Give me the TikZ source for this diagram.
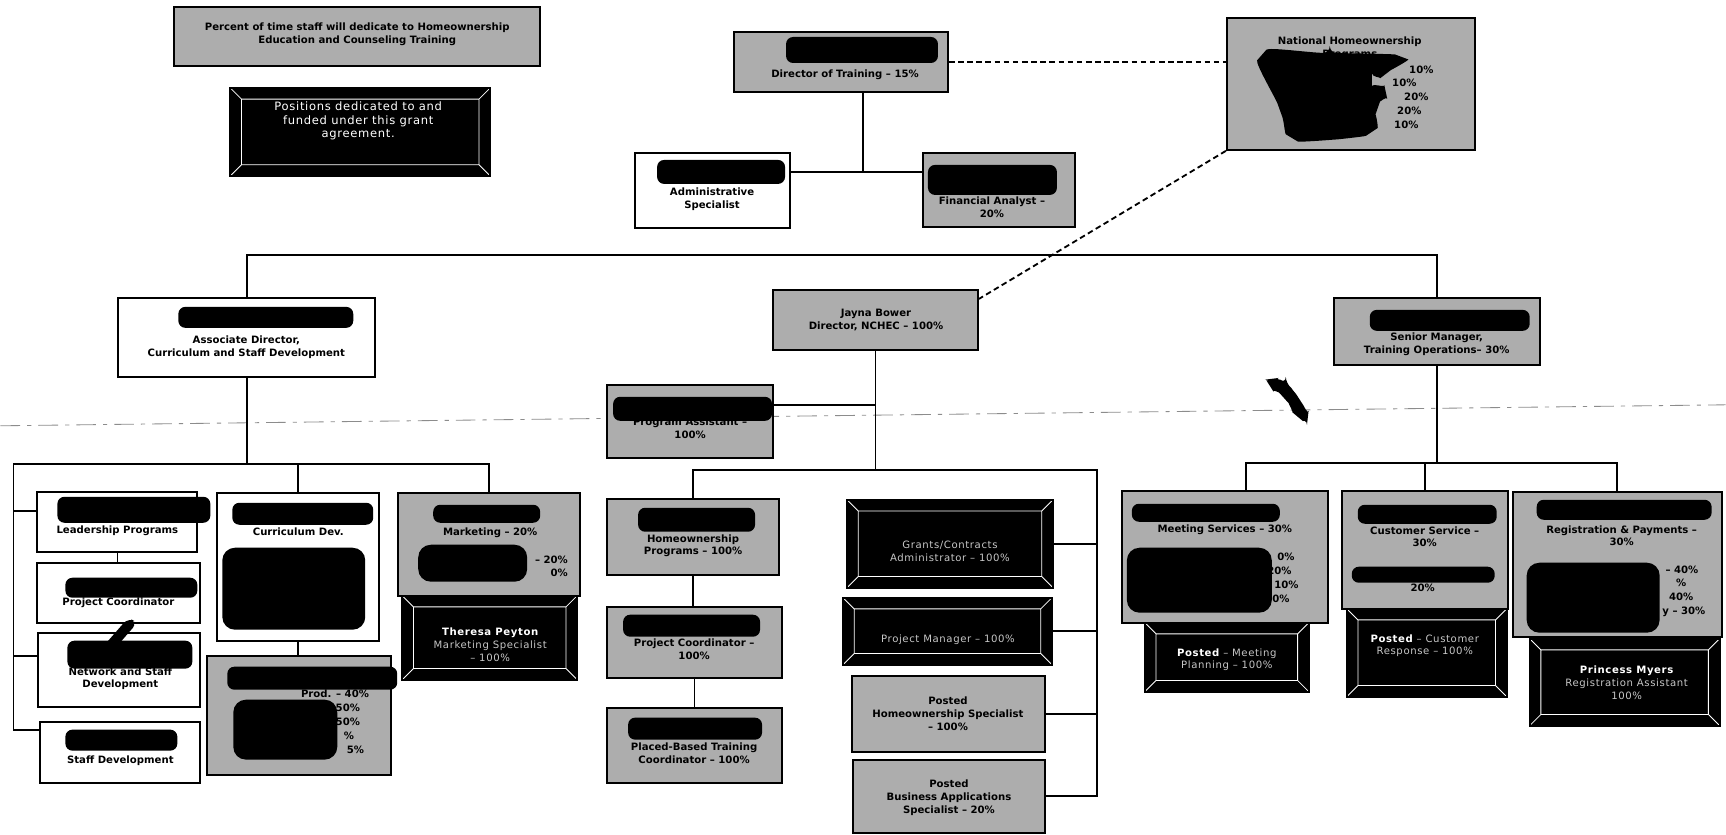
\documentclass[tikz,border=0pt]{standalone}
\usepackage{fontspec}
\setmainfont{DejaVu Sans}
\newfontfamily\widefont[LetterSpace=6]{DejaVu Sans}
\usetikzlibrary{positioning,fit,calc}
\tikzset{
    % plain position box
    wbox/.style={
        draw=black,
        line width=1.3pt,
        fill=white,
        inner sep=0pt
    },
    % shaded box (time share)
    gbox/.style={
        draw=black,
        line width=1.3pt,
        fill=black!32,
        inner sep=0pt
    },
    % funded position, bevelled black box
    bbox/.style={
        draw=black,
        line width=1.3pt,
        fill=black,
        inner sep=0pt,
        path picture={
            \draw[white, line width=0.6pt]
                ($(path picture bounding box.north west)+(.28cm,-.28cm)$) rectangle
                ($(path picture bounding box.south east)+(-.28cm,.28cm)$)
                (path picture bounding box.north west) -- ++(.28cm,-.28cm)
                (path picture bounding box.north east) -- ++(-.28cm,-.28cm)
                (path picture bounding box.south west) -- ++(.28cm,.28cm)
                (path picture bounding box.south east) -- ++(-.28cm,.28cm);
        }
    },
    % labels
    lbl/.style={
        font=\fontsize{7.2}{9.2}\selectfont\bfseries,
        align=center,
        inner sep=0pt
    },
    wlbl/.style={
        font=\widefont\fontsize{7.2}{9.2}\selectfont,
        text=white!78!black,
        align=center,
        inner sep=0pt
    },
    % connectors
    conn/.style={
        line width=1.2pt,
        black
    },
    dashconn/.style={
        line width=1.3pt,
        dash pattern=on 4pt off 2.5pt
    },
    % blacked-out names
    redact/.style={
        fill=black,
        rounded corners=5pt
    }
}

\begin{document}
\begin{tikzpicture}[x=0.025cm, y=-0.025cm]

\path[fill=white] (0,0) rectangle (1726,835);

% scanner streak
\draw[black!45, line width=0.6pt, dash pattern=on 14pt off 5pt on 3pt off 5pt] (0,426) -- (1726,405);

% === LEGEND ===
\node[gbox, fit={(174,7) (540,66)}] (legend) {};
\node[lbl] (legend-t) at (357,34) {Percent of time staff will dedicate to Homeownership\\Education and Counseling Training};
\node[bbox, fit={(230,88) (490,176)}] (grant) {};
\node[wlbl, text=white, font=\widefont\fontsize{8.2}{9.6}\selectfont] (grant-t) at (358,121) {Positions dedicated to and\\funded under this grant\\agreement.};

% === TOP ===
\node[gbox, fit={(734,32) (948,92)}] (dir) {};
\node[wbox, fit={(635,153) (790,228)}] (adm) {};
\node[gbox, fit={(923,153) (1075,227)}] (fin) {};
\node[gbox, fit={(1227,18) (1475,150)}] (nat) {};

\coordinate (dirj) at (863,172);
\draw[conn] (dirj |- dir.south) -- (dirj);
\draw[conn] (dirj -| adm.east) -- (dirj -| fin.west);
\draw[dashconn] (dir.east) -- (dir.east -| nat.west);

% === SECOND ROW ===
\node[wbox, fit={(118,298) (375,377)}] (assoc) {};
\node[gbox, fit={(773,290) (978,350)}] (jay) {};
\node[gbox, fit={(1334,298) (1540,365)}] (sen) {};

\coordinate (busL) at (246.5,255);
\draw[conn] (assoc.north) -- (busL) -| (sen.north);
\draw[dashconn] (nat.south west) -- ([yshift=-0.25cm]jay.north east);

% === CURRICULUM AND STAFF DEVELOPMENT ===
\node[wbox, fit={(37,492) (197,552)}] (lead) {};
\node[wbox, fit={(37,563) (200,623)}] (proj) {};
\node[wbox, fit={(38,633) (200,707)}] (net) {};
\node[wbox, fit={(40,722) (200,783)}] (staff) {};
\node[wbox, fit={(217,493) (379,641)}] (cur) {};
\node[gbox, fit={(207,656) (391,775)}] (instr) {};
\node[gbox, fit={(398,493) (580,596)}] (mkt) {};
\node[bbox, fit={(402,596) (577,680)}] (ther) {};

\coordinate (lbusL) at (13,464);
\draw[conn] (assoc.south) -- (assoc.south |- lbusL);
\draw[conn] (lbusL) -| (mkt.north);
\draw[conn] (cur.north |- lbusL) -- (cur.north);
\draw[conn] (lbusL) |- ([yshift=0.275cm]lead.west);
\draw[conn] (lbusL) |- ([yshift=0.35cm]net.west);
\draw[conn] (lbusL) |- ([yshift=0.55cm]staff.west);
\draw[conn] (lead.south) -- (lead.south |- proj.north);
\draw[conn] (cur.south) -- (cur.south |- instr.north);

% === NCHEC ===
\node[gbox, fit={(607,385) (773,458)}] (pa) {};
\node[gbox, fit={(607,499) (779,575)}] (hp) {};
\node[gbox, fit={(607,607) (782,678)}] (pc) {};
\node[gbox, fit={(607,708) (782,783)}] (pb) {};
\node[bbox, fit={(847,500) (1053,588)}] (grants) {};
\node[bbox, fit={(843,598) (1052,665)}] (pm) {};
\node[gbox, fit={(852,676) (1045,752)}] (hs) {};
\node[gbox, fit={(853,760) (1045,833)}] (ba) {};

\coordinate (mbusL) at (693,470);
\coordinate (mbusR) at (1097,470);
\coordinate (paj) at (875.5,405);
\draw[conn] (jay.south) -- (jay.south |- mbusL);
\draw[conn] (paj) -- (paj -| pa.east);
\draw[conn] (mbusL |- hp.north) -- (mbusL) -- (mbusR) |- (ba.east);
\draw[conn] (mbusR |- grants.east) -- (grants.east);
\draw[conn] (mbusR |- pm.east) -- (pm.east);
\draw[conn] (mbusR |- hs.east) -- (hs.east);
\draw[conn] (hp.south) -- (hp.south |- pc.north);
\draw[conn] (pc.south) -- (pc.south |- pb.north);

% === TRAINING OPERATIONS ===
\node[gbox, fit={(1122,491) (1328,623)}] (meet) {};
\node[bbox, fit={(1145,623) (1309,692)}] (meetb) {};
\node[gbox, fit={(1342,491) (1508,609)}] (cust) {};
\node[bbox, fit={(1347,609) (1507,697)}] (custb) {};
\node[gbox, fit={(1513,492) (1722,637)}] (reg) {};
\node[bbox, fit={(1530,639) (1720,726)}] (prin) {};

\coordinate (rbusL) at (1246,463);
\draw[conn] (sen.south) -- (sen.south |- rbusL);
\draw[conn] (rbusL |- meet.north) -- (rbusL) -| (reg.north);
\draw[conn] (cust.north |- rbusL) -- (cust.north);

% === TEXTS ===
\node[lbl] (dir-t) at (845,75) {Director of Training – 15\%};
\node[lbl] (adm-t) at (712,199) {Administrative\\Specialist};
\node[lbl] (fin-t) at (992,207) {Financial Analyst –\\20\%};
\node[lbl] (nat-t) at (1350,48) {National Homeownership\\Programs};
\node[lbl, anchor=east] (nat-p1) at (1434,70) {10\%};
\node[lbl, anchor=east] (nat-p2) at (1417,83) {10\%};
\node[lbl, anchor=east] (nat-p3) at (1429,97) {20\%};
\node[lbl, anchor=east] (nat-p4) at (1422,111) {20\%};
\node[lbl, anchor=east] (nat-p5) at (1419,125) {10\%};

\node[lbl] (assoc-t) at (246,347) {Associate Director,\\Curriculum and Staff Development};
\node[lbl] (jay-t) at (876,320) {Jayna Bower\\Director, NCHEC – 100\%};
\node[lbl] (sen-t) at (1437,344) {Senior Manager,\\Training Operations– 30\%};

\node[lbl] (lead-t) at (117,531) {Leadership Programs};
\node[lbl] (proj-t) at (118,603) {Project Coordinator};
\node[lbl] (net-t) at (120,679) {Network and Staff\\Development};
\node[lbl] (staff-t) at (120,761) {Staff Development};
\node[lbl] (cur-t) at (298,532) {Curriculum Dev.};
\node[lbl, anchor=east] (instr-t) at (369,694) {Prod. – 40\%};
\node[lbl, anchor=east] (instr-p1) at (360,708) {– 50\%};
\node[lbl, anchor=east] (instr-p2) at (360,722) {50\%};
\node[lbl, anchor=east] (instr-p3) at (354,736) {\%};
\node[lbl, anchor=east] (instr-p4) at (364,750) {5\%};
\node[lbl] (mkt-t) at (490,533) {Marketing – 20\%};
\node[lbl, anchor=east] (mkt-p1) at (568,560) {– 20\%};
\node[lbl, anchor=east] (mkt-p2) at (568,573) {0\%};
\node[wlbl] (ther-t) at (490,645) {\textcolor{white}{\bfseries Theresa Peyton}\\Marketing Specialist\\– 100\%};

\node[lbl] (pa-t) at (690,428) {Program Assistant –\\100\%};
\node[lbl] (hp-t) at (693,546) {Homeownership\\Programs – 100\%};
\node[lbl] (pc-t) at (694,650) {Project Coordinator –\\100\%};
\node[lbl] (pb-t) at (694,754) {Placed-Based Training\\Coordinator – 100\%};
\node[wlbl] (grants-t) at (950,552) {Grants/Contracts\\Administrator – 100\%};
\node[wlbl] (pm-t) at (948,640) {Project Manager – 100\%};
\node[lbl] (hs-t) at (948,714) {Posted\\Homeownership Specialist\\– 100\%};
\node[lbl] (ba-t) at (949,798) {Posted\\Business Applications\\Specialist – 20\%};

\node[lbl] (meet-t) at (1225,530) {Meeting Services – 30\%};
\node[lbl, anchor=east] (meet-p1) at (1295,557) {0\%};
\node[lbl, anchor=east] (meet-p2) at (1292,571) {20\%};
\node[lbl, anchor=east] (meet-p3) at (1299,585) {10\%};
\node[lbl, anchor=east] (meet-p4) at (1290,599) {0\%};
\node[wlbl] (meetb-t) at (1227,660) {\textcolor{white}{\bfseries Posted} – Meeting\\Planning – 100\%};
\node[lbl] (cust-t) at (1425,537) {Customer Service –\\30\%};
\node[lbl] (cust-p) at (1423,588) {20\%};
\node[wlbl] (custb-t) at (1425,646) {\textcolor{white}{\bfseries Posted} – Customer\\Response – 100\%};
\node[lbl] (reg-t) at (1622,536) {Registration \& Payments –\\30\%};
\node[lbl, anchor=east] (reg-p1) at (1699,570) {– 40\%};
\node[lbl, anchor=east] (reg-p2) at (1687,583) {\%};
\node[lbl, anchor=east] (reg-p3) at (1694,597) {40\%};
\node[lbl, anchor=east] (reg-p4) at (1706,612) {y – 30\%};
\node[wlbl] (prin-t) at (1627,683) {\textcolor{white}{\bfseries Princess Myers}\\Registration Assistant\\100\%};

% === REDACTIONS ===
\fill[redact] (786,37) rectangle (938,63);
\fill[redact] (657,160) rectangle (785,184);
\fill[redact] (928,165) rectangle (1057,195);
\fill[redact] plot[smooth cycle, tension=0.5] coordinates {(1262,55) (1330,53) (1402,57) (1386,74) (1372,80) (1386,92) (1378,108) (1372,132) (1330,140) (1292,138) (1280,110)};
\fill[redact] (178,307) rectangle (353,328);
\fill[redact] (613,397) rectangle (772,421);
\fill[redact] (1370,310) rectangle (1530,331);
\fill[redact] (57,497) rectangle (210,523);
\fill[redact] (65,578) rectangle (197,598);
\fill[redact] (67,641) rectangle (192,669);
\fill[redact] (100,650) -- (128,618) -- (137,623) -- (110,654) -- cycle;
\fill[redact] (65,730) rectangle (177,751);
\fill[redact] (232,503) rectangle (373,525);
\fill[redact, rounded corners=9pt] (222,548) rectangle (365,630);
\fill[redact] (227,667) rectangle (397,690);
\fill[redact, rounded corners=9pt] (233,700) rectangle (337,760);
\fill[redact] (433,505) rectangle (540,523);
\fill[redact, rounded corners=9pt] (418,545) rectangle (527,582);
\fill[redact] (638,508) rectangle (755,532);
\fill[redact] (623,615) rectangle (760,637);
\fill[redact] (628,718) rectangle (762,740);
\fill[redact] (1132,504) rectangle (1280,522);
\fill[redact, rounded corners=9pt] (1127,548) rectangle (1272,613);
\fill[redact] (1358,505) rectangle (1497,524);
\fill[redact] (1352,567) rectangle (1495,583);
\fill[redact] (1537,500) rectangle (1712,520);
\fill[redact, rounded corners=9pt] (1527,563) rectangle (1660,633);
\fill[redact] plot[smooth cycle, tension=0.6] coordinates {(1272,379) (1286,384) (1300,400) (1308,418) (1298,417) (1284,398) (1270,386)};

\end{tikzpicture}
\end{document}
